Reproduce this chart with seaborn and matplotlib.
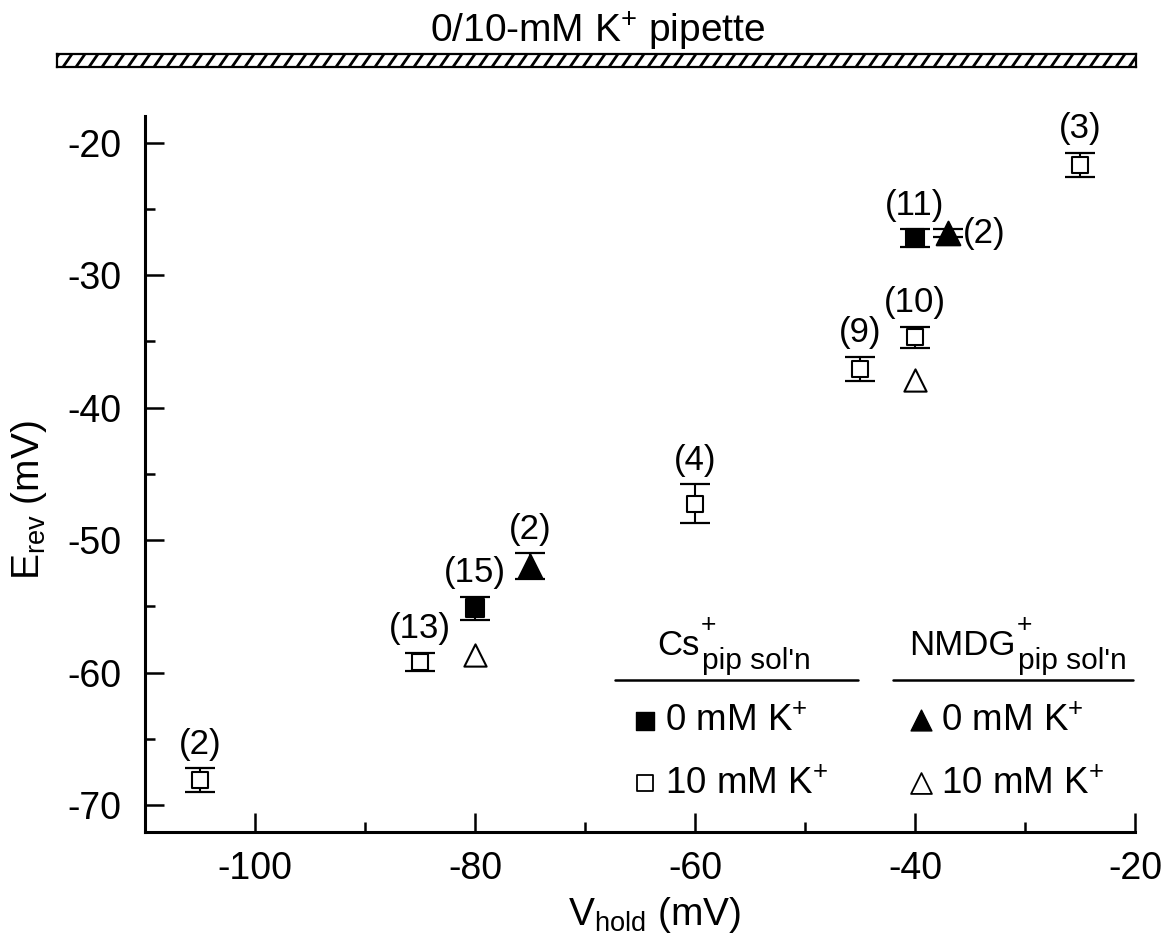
import matplotlib
matplotlib.use("Agg")
import matplotlib.pyplot as plt
import numpy as np
import pandas as pd
import seaborn as sns
from matplotlib.ticker import MultipleLocator
from matplotlib.lines import Line2D

# ---------------- data ----------------
cs0_x = [-80, -40]
cs0_y = [-55.15, -27.2]
cs0_err = [0.85, 0.65]
cs0_n = ["(15)", "(11)"]

cs10_x = [-105, -85, -60, -45, -40, -25]
cs10_y = [-68.1, -59.2, -47.25, -37.1, -34.7, -21.7]
cs10_err = [0.87, 0.7, 1.45, 0.9, 0.8, 0.93]
cs10_n = ["(2)", "(13)", "(4)", "(9)", "(10)", "(3)"]

nm0_x = [-75, -37]
nm0_y = [-51.95, -26.85]
nm0_err = [0.95, 0.3]
nm0_n = ["(2)", "(2)"]
nm0_label_side = ["top", "right"]

nm10_x = [-80, -40]
nm10_y = [-58.7, -37.9]

x_ticks = [-100, -80, -60, -40, -20]
y_ticks = [-70, -60, -50, -40, -30, -20]

# ---------------- style ----------------
sns.set_theme(style="ticks")
plt.rcParams["font.family"] = ["Liberation Sans", "DejaVu Sans"]
plt.rcParams["mathtext.fontset"] = "custom"
plt.rcParams["mathtext.rm"] = "Liberation Sans"
plt.rcParams["mathtext.it"] = "Liberation Sans:italic"
plt.rcParams["mathtext.bf"] = "Liberation Sans:bold"
plt.rcParams["text.color"] = "black"
plt.rcParams["axes.labelcolor"] = "black"
plt.rcParams["xtick.color"] = "black"
plt.rcParams["ytick.color"] = "black"

W, H = 1168, 949
fig = plt.figure(figsize=(W / 100, H / 100), dpi=100)
fig.patch.set_facecolor("white")

ax_l, ax_r, ax_t, ax_b = 145, 1135, 116, 831.7
ax = fig.add_axes([ax_l / W, (H - ax_b) / H, (ax_r - ax_l) / W, (ax_b - ax_t) / H])
ax.set_facecolor("white")

df = pd.concat([
    pd.DataFrame({"V": cs0_x, "E": cs0_y, "err": cs0_err, "grp": "cs0"}),
    pd.DataFrame({"V": cs10_x, "E": cs10_y, "err": cs10_err, "grp": "cs10"}),
    pd.DataFrame({"V": nm0_x, "E": nm0_y, "err": nm0_err, "grp": "nm0"}),
    pd.DataFrame({"V": nm10_x, "E": nm10_y, "err": [np.nan] * len(nm10_x), "grp": "nm10"}),
], ignore_index=True)

# error bars
for g in ["cs0", "cs10", "nm0"]:
    sub = df[df.grp == g]
    ax.errorbar(sub.V, sub.E, yerr=sub.err, fmt="none", ecolor="black",
                elinewidth=1.5, capsize=11, capthick=1.6, zorder=2)

styles = {
    "cs0": dict(marker="s", s=12.5 ** 2, color="black", edgecolor="black"),
    "cs10": dict(marker="s", s=11 ** 2, color="white", edgecolor="black"),
    "nm0": dict(marker="^", s=17 ** 2, color="black", edgecolor="black"),
    "nm10": dict(marker="^", s=16 ** 2, color="white", edgecolor="black"),
}
for g, st in styles.items():
    sub = df[df.grp == g]
    sns.scatterplot(data=sub, x="V", y="E", ax=ax, linewidth=1.5, zorder=3,
                    legend=False, **st)

# n labels
def label_points(xs, ys, errs, labels, sides=None):
    for i, (x, y, e, t) in enumerate(zip(xs, ys, errs, labels)):
        side = sides[i] if sides else "top"
        if side == "top":
            ax.annotate(t, xy=(x, y + e), xytext=(0, 17.5), textcoords="offset points",
                        ha="center", va="center", fontsize=25)
        else:
            ax.annotate(t, xy=(x, y), xytext=(11, 0), textcoords="offset points",
                        ha="left", va="center", fontsize=25)

label_points(cs0_x, cs0_y, cs0_err, cs0_n)
label_points(cs10_x, cs10_y, cs10_err, cs10_n)
label_points(nm0_x, nm0_y, nm0_err, nm0_n, nm0_label_side)

# axes
ax.set_xlim(-110, -20)
ax.set_ylim(-72, -18)
ax.set_xticks(x_ticks)
ax.set_yticks(y_ticks)
ax.set_xticklabels([str(v) for v in x_ticks])
ax.set_yticklabels([str(v) for v in y_ticks])
ax.xaxis.set_minor_locator(MultipleLocator(10))
ax.yaxis.set_minor_locator(MultipleLocator(5))
ax.tick_params(which="major", direction="in", length=14, width=1.8,
               labelsize=27, color="black", labelcolor="black")
ax.tick_params(axis="x", which="major", pad=14)
ax.tick_params(axis="y", which="major", pad=17)
ax.tick_params(which="minor", direction="in", length=7.5, width=1.8, color="black")
for s in ["top", "right"]:
    ax.spines[s].set_visible(False)
for s in ["left", "bottom"]:
    ax.spines[s].set_linewidth(2.2)
    ax.spines[s].set_color("black")


def fx(px):
    return (px - ax_l) / (ax_r - ax_l)


def fy(py):
    return (ax_b - py) / (ax_b - ax_t)


ax.set_xlabel(r"V$_{\mathrm{hold}}$ (mV)", fontsize=28, color="black")
ax.set_ylabel(r"E$_{\mathrm{rev}}$ (mV)", fontsize=28, color="black")
ax.xaxis.set_label_coords(fx(655), fy(915))
ax.xaxis.label.set_verticalalignment("center")
ax.yaxis.set_label_coords(fx(29), fy(500))
ax.yaxis.label.set_verticalalignment("center")

# manual legend (axes fraction from pixel positions)
T = ax.transAxes
ax.text(fx(700), fy(655), "Cs", transform=T, ha="right", va="baseline", fontsize=25)
ax.text(fx(701), fy(632), "+", transform=T, ha="left", va="baseline", fontsize=19)
ax.text(fx(702), fy(669), "pip sol'n", transform=T, ha="left", va="baseline", fontsize=21.5)
ax.text(fx(1016), fy(655), "NMDG", transform=T, ha="right", va="baseline", fontsize=25)
ax.text(fx(1017), fy(632), "+", transform=T, ha="left", va="baseline", fontsize=19)
ax.text(fx(1018), fy(669), "pip sol'n", transform=T, ha="left", va="baseline", fontsize=21.5)
ax.add_line(Line2D([fx(615), fx(858)], [fy(680), fy(680)], transform=T, color="black", lw=1.8, clip_on=False))
ax.add_line(Line2D([fx(893), fx(1133)], [fy(680), fy(680)], transform=T, color="black", lw=1.8, clip_on=False))

ax.scatter([fx(645)], [fy(721)], transform=T, marker="s", s=12.5 ** 2, color="black", clip_on=False)
ax.scatter([fx(645)], [fy(783)], transform=T, marker="s", s=12 ** 2, facecolor="white", edgecolor="black", linewidth=1.3, clip_on=False)
ax.scatter([fx(921)], [fy(720)], transform=T, marker="^", s=15 ** 2, color="black", clip_on=False)
ax.scatter([fx(921)], [fy(783)], transform=T, marker="^", s=15 ** 2, facecolor="white", edgecolor="black", linewidth=1.3, clip_on=False)
ax.text(fx(665), fy(731), r"0 mM K$^{+}$", transform=T, ha="left", va="baseline", fontsize=26.5)
ax.text(fx(665), fy(794), r"10 mM K$^{+}$", transform=T, ha="left", va="baseline", fontsize=26.5)
ax.text(fx(941), fy(731), r"0 mM K$^{+}$", transform=T, ha="left", va="baseline", fontsize=26.5)
ax.text(fx(941), fy(794), r"10 mM K$^{+}$", transform=T, ha="left", va="baseline", fontsize=26.5)

# top hatched bar and title
bx0, bx1, by0, by1 = 57, 1136, 54, 67
bax = fig.add_axes([bx0 / W, (H - by1) / H, (bx1 - bx0) / W, (by1 - by0) / H])
bax.set_xlim(0, bx1 - bx0)
bax.set_ylim(0, by1 - by0)
bax.set_xticks([])
bax.set_yticks([])
for s in bax.spines.values():
    s.set_linewidth(1.6)
    s.set_color("black")
hh = by1 - by0
for xs in np.arange(-20, bx1 - bx0 + 20, 13):
    bax.plot([xs, xs + 9], [0, hh], color="black", lw=2.0, solid_capstyle="butt")
bax.set_facecolor("white")

fig.text(598 / W, 1 - 31 / H, r"0/10-mM K$^{+}$ pipette", ha="center", va="center", fontsize=28)

fig.savefig("out.png", dpi=100, facecolor="white")
